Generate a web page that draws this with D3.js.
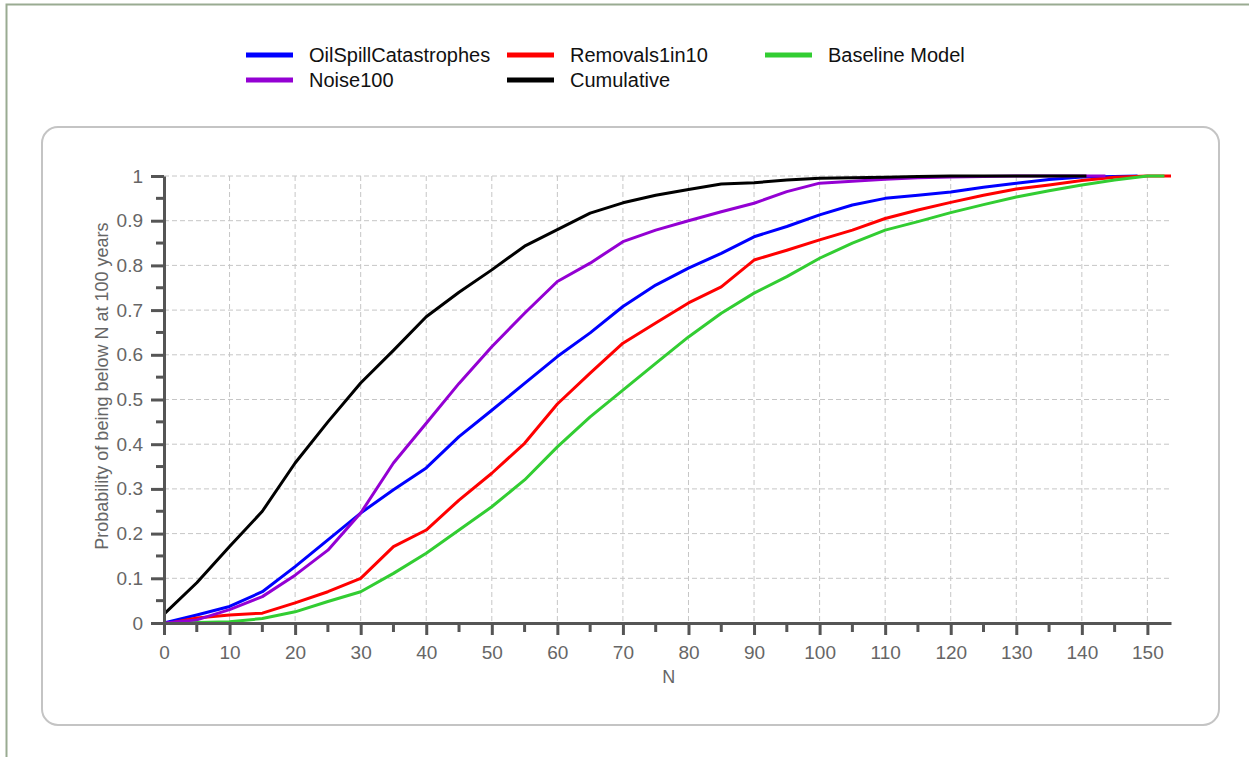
<!DOCTYPE html>
<html>
<head>
<meta charset="utf-8">
<script src="https://cdn.jsdelivr.net/npm/d3@7"></script>
<style>
  html, body { margin: 0; padding: 0; background: #fff; }
  svg { display: block; font-family: "Liberation Sans", Arial, sans-serif; }
</style>
</head>
<body>
<svg id="chart" width="1249" height="757"></svg>
<script>
// N values where each curve was read (every 5 units)
const nValues = [0, 5, 10, 15, 20, 25, 30, 35, 40, 45, 50, 55, 60, 65, 70, 75,
  80, 85, 90, 95, 100, 105, 110, 115, 120, 125, 130, 135, 140, 145, 150];

const oilSpill = [0, 0.018, 0.037, 0.07, 0.126, 0.186, 0.246, 0.298, 0.347, 0.417,
  0.476, 0.536, 0.596, 0.649, 0.708, 0.756, 0.794, 0.827, 0.864, 0.887, 0.913,
  0.935, 0.95, 0.957, 0.964, 0.975, 0.984, 0.992, 0.998, 0.999, 1];
const removals = [0, 0.011, 0.018, 0.022, 0.045, 0.07, 0.1, 0.171, 0.208, 0.275,
  0.335, 0.402, 0.49, 0.559, 0.626, 0.671, 0.716, 0.752, 0.812, 0.834, 0.857,
  0.879, 0.905, 0.924, 0.941, 0.957, 0.971, 0.98, 0.99, 0.997, 1];
const baseline = [0, 0.001, 0.003, 0.01, 0.025, 0.048, 0.07, 0.111, 0.156, 0.208,
  0.26, 0.32, 0.394, 0.461, 0.521, 0.581, 0.64, 0.693, 0.738, 0.775, 0.816,
  0.85, 0.879, 0.898, 0.918, 0.936, 0.953, 0.967, 0.98, 0.991, 1];
const noise100 = [0, 0.007, 0.03, 0.059, 0.107, 0.163, 0.246, 0.358, 0.447, 0.536,
  0.618, 0.693, 0.764, 0.805, 0.853, 0.879, 0.9, 0.92, 0.939, 0.965, 0.984,
  0.988, 0.993, 0.996, 0.998, 0.999, 1, 1, 1, 1, null];
const cumulative = [0.02, 0.09, 0.171, 0.25, 0.358, 0.45, 0.537, 0.61, 0.685, 0.74,
  0.79, 0.843, 0.88, 0.917, 0.94, 0.957, 0.97, 0.982, 0.985, 0.991, 0.995,
  0.996, 0.997, 0.999, 1, 1, 1, 1, 1, null, null];

const seriesNames = ["OilSpillCatastrophes", "Removals1in10", "Baseline Model", "Noise100", "Cumulative"];
const seriesColors = ["#0000ff", "#ff0000", "#32cd32", "#9400d3", "#000000"];
const seriesValues = [oilSpill, removals, baseline, noise100, cumulative];
// last N reached by each curve (flat at 1 after that)
const seriesEnd = [148.5, 153.6, 152.6, 143.6, 140.7];

const xTicks = d3.range(0, 151, 10);
const yTicks = d3.range(0, 1.0001, 0.1);

const svg = d3.select("#chart");

// outer frame of the form
svg.append("rect")
  .attr("x", 6.5).attr("y", 4.5)
  .attr("width", 1260).attr("height", 800)
  .attr("fill", "none")
  .attr("stroke", "#9aab92")
  .attr("stroke-width", 2);

// rounded chart panel
svg.append("rect")
  .attr("x", 42).attr("y", 127)
  .attr("width", 1177).attr("height", 598)
  .attr("rx", 16).attr("ry", 16)
  .attr("fill", "#fff")
  .attr("stroke", "#c4c4c4")
  .attr("stroke-width", 2);

const margin = { left: 164, top: 176, right: 1171, bottom: 623 };

const x = d3.scaleLinear().domain([0, 153.6]).range([margin.left, margin.right]);
const y = d3.scaleLinear().domain([0, 1]).range([margin.bottom, margin.top]);

// grid
const grid = svg.append("g").attr("stroke", "#c6c6c6").attr("stroke-dasharray", "5,3");
grid.selectAll(".gx").data(xTicks.slice(1)).join("line")
  .attr("x1", d => x(d)).attr("x2", d => x(d))
  .attr("y1", margin.top).attr("y2", margin.bottom);
grid.selectAll(".gy").data(yTicks.slice(1)).join("line")
  .attr("x1", margin.left).attr("x2", margin.right)
  .attr("y1", d => y(d)).attr("y2", d => y(d));

// curves
const line = d3.line()
  .x(d => x(d[0]))
  .y(d => y(d[1]));

seriesValues.forEach((vals, i) => {
  let pts = nValues.map((n, j) => [n, vals[j]])
    .filter(p => p[1] != null && p[0] <= seriesEnd[i]);
  if (pts[pts.length - 1][0] < seriesEnd[i]) pts.push([seriesEnd[i], 1]);
  if (i === 1) pts[0] = [1, 0];
  if (i === 2) pts[0] = [2, 0];
  svg.append("path")
    .datum(pts)
    .attr("fill", "none")
    .attr("stroke", seriesColors[i])
    .attr("stroke-width", 3)
    .attr("stroke-linejoin", "round")
    .attr("d", line);
});

// axes
const axisColor = "#555";
const xAxis = svg.append("g").attr("transform", `translate(0,${margin.bottom})`)
  .call(d3.axisBottom(x).tickValues(xTicks).tickSize(12).tickSizeOuter(0).tickPadding(11));
const yAxis = svg.append("g").attr("transform", `translate(${margin.left},0)`)
  .call(d3.axisLeft(y).tickValues(yTicks).tickSize(13).tickSizeOuter(0).tickPadding(8)
    .tickFormat(d => d3.format("~g")(+d.toFixed(1))));

[xAxis, yAxis].forEach(a => {
  a.select(".domain").attr("stroke", axisColor).attr("stroke-width", 3);
  a.selectAll(".tick line").attr("stroke", axisColor).attr("stroke-width", 3);
  a.selectAll(".tick text").attr("fill", "#666").attr("font-size", 19);
});

// minor ticks
svg.append("g").selectAll("line").data(d3.range(5, 153, 10)).join("line")
  .attr("x1", d => x(d)).attr("x2", d => x(d))
  .attr("y1", margin.bottom).attr("y2", margin.bottom + 9)
  .attr("stroke", axisColor).attr("stroke-width", 3);
svg.append("g").selectAll("line").data(d3.range(0.05, 1, 0.1)).join("line")
  .attr("x1", margin.left - 8).attr("x2", margin.left)
  .attr("y1", d => y(d)).attr("y2", d => y(d))
  .attr("stroke", axisColor).attr("stroke-width", 3);

// axis titles
svg.append("text")
  .attr("x", x(77)).attr("y", 683)
  .attr("text-anchor", "middle")
  .attr("fill", "#666").attr("font-size", 18)
  .text("N");
svg.append("text")
  .attr("transform", `translate(108,${y(0.53)}) rotate(-90)`)
  .attr("text-anchor", "middle")
  .attr("fill", "#666").attr("font-size", 18)
  .text("Probability of being below N at 100 years");

// legend
const legendPos = [[246, 55], [507, 55], [765, 55], [246, 80], [507, 80]];
const legend = svg.append("g");
seriesNames.forEach((name, i) => {
  const [lx, ly] = legendPos[i];
  legend.append("line")
    .attr("x1", lx).attr("x2", lx + 47)
    .attr("y1", ly).attr("y2", ly)
    .attr("stroke", seriesColors[i]).attr("stroke-width", 5);
  legend.append("text")
    .attr("x", lx + 63).attr("y", ly + 7)
    .attr("font-size", 20).attr("fill", "#111")
    .text(name);
});
</script>
</body>
</html>
